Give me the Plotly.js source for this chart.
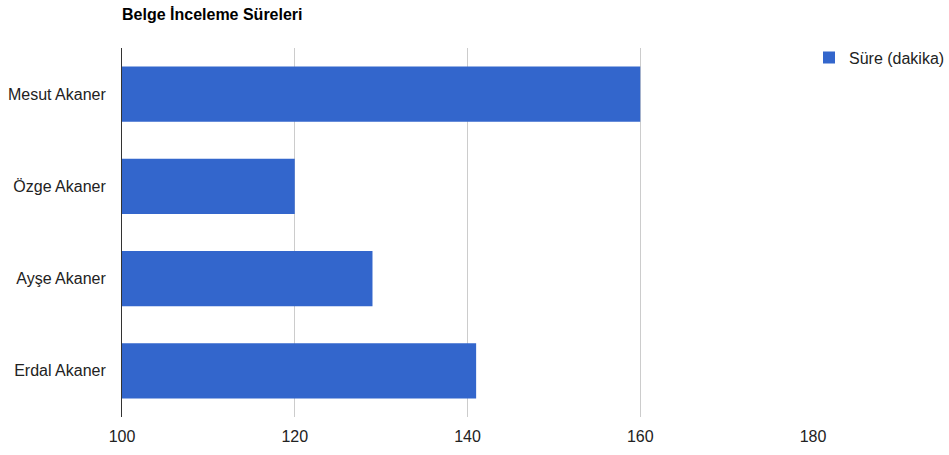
<!DOCTYPE html>
<html><head><meta charset="utf-8">
<script src="https://cdn.plot.ly/plotly-3.0.1.min.js"></script>
<style>html,body{margin:0;padding:0;background:#fff}</style>
</head><body>
<div id="chart" style="width:949px;height:455px"></div>
<script>
var categories = ["Mesut Akaner", "Özge Akaner", "Ayşe Akaner", "Erdal Akaner"];
var values = [160, 120, 129, 141];
var seriesName = "Süre (dakika)";
var xTicks = [100, 120, 140, 160, 180];

var trace = {
  type: "bar", orientation: "h",
  y: categories, x: values, base: 0,
  name: seriesName,
  marker: {color: "#3366cc"},
  hoverinfo: "x+y"
};
var layout = {
  width: 949, height: 455,
  margin: {l: 122, r: 136, t: 48, b: 38, autoexpand: false},
  paper_bgcolor: "#fff", plot_bgcolor: "#fff",
  font: {family: "Liberation Sans, Arial, sans-serif", size: 16, color: "#222"},
  title: {text: "<b>Belge İnceleme Süreleri</b>", x: 122/949, xanchor: "left", y: 1 - 14/455, yanchor: "middle",
          font: {size: 16, color: "#000"}},
  bargap: 0.4,
  showlegend: true,
  legend: {x: 1.0 - 4/691, xanchor: "left", y: 1.02, yanchor: "top", font: {size: 16, color: "#222"},
           itemwidth: 30, bgcolor: "rgba(0,0,0,0)"},
  xaxis: {range: [100, 180], tickvals: xTicks, showgrid: true, gridcolor: "#ccc", gridwidth: 1,
          zeroline: false, showline: false, ticks: "", ticklabelstandoff: 8, fixedrange: true},
  yaxis: {type: "category", autorange: "reversed", showline: true, linecolor: "#333", linewidth: 1,
          ticks: "", ticklabelstandoff: 12, showgrid: false, zeroline: false, fixedrange: true}
};
Plotly.newPlot("chart", [trace], layout, {displayModeBar: false});
</script>
</body></html>
